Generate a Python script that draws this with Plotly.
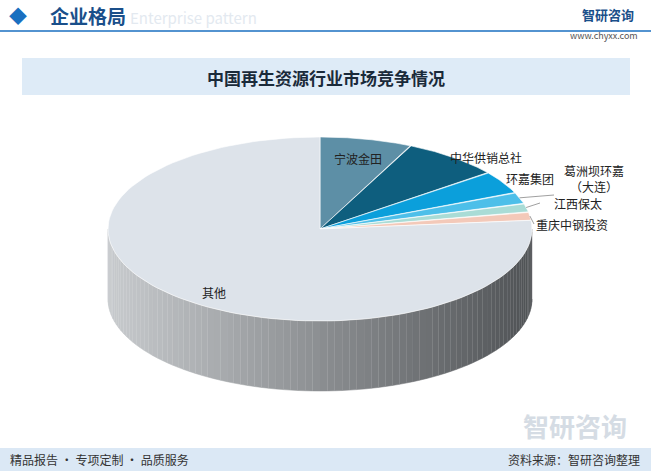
import numpy as np
import plotly.graph_objects as go

# data
companies = ["宁波金田", "中华供销总社", "环嘉集团", "葛洲坝环嘉<br>（大连）", "江西保太", "重庆中钢投资", "其他"]
shares = [7.0, 7.5, 4.0, 2.0, 1.5, 1.5, 76.5]
colors = ["#5d8fa6", "#0e5e7e", "#0b9fdb", "#4dbfe9", "#a9dcd6", "#f3c9b9", "#dde3ea"]

# pie geometry (page pixels)
cx, cy, rx, ry, depth = 320, 229, 212, 92, 70

def pt(theta, dy=0):
    return cx + rx * np.sin(theta), cy - ry * np.cos(theta) + dy

fig = go.Figure()

# side wall (front half), shaded gray
steps = np.linspace(np.pi / 2, 3 * np.pi / 2, 91)
for a, b in zip(steps[:-1], steps[1:]):
    x1, y1 = pt(a)
    x2, y2 = pt(b)
    t = (np.sin((a + b) / 2) + 1) / 2  # 0 left, 1 right
    c = int(200 - 120 * t)
    col = f"rgb({c},{c + 3},{c + 6})"
    fig.add_trace(go.Scatter(x=[x1, x2, x2, x1], y=[y1, y2, y2 + depth, y1 + depth],
                             fill="toself", fillcolor=col, mode="lines",
                             line=dict(color=col, width=0.5), hoverinfo="skip"))

# top faces
cum = np.concatenate([[0], np.cumsum(shares)]) / sum(shares) * 2 * np.pi
for i in range(len(shares)):
    th = np.linspace(cum[i], cum[i + 1], 120)
    xs, ys = pt(th)
    fig.add_trace(go.Scatter(x=np.r_[cx, xs, cx], y=np.r_[cy, ys, cy], fill="toself",
                             fillcolor=colors[i], mode="lines",
                             line=dict(color="white", width=0.6), hoverinfo="skip"))

# labels
label_pos = [(358, 158), (486, 157), (530, 178), (594, 178), (578, 203), (572, 224), (214, 292)]
mids = (cum[:-1] + cum[1:]) / 2
for i, (name, (lx, ly)) in enumerate(zip(companies, label_pos)):
    fig.add_annotation(x=lx, y=ly, text=name, showarrow=False,
                       font=dict(size=12, color="#222"))
    if i in (3, 4, 5):
        mx, my = pt(mids[i])
        fig.add_shape(type="line", x0=mx, y0=my, x1=lx - 38 if i != 3 else lx - 40, y1=ly if i != 3 else 195,
                      line=dict(color="#888", width=0.8))

# header
fig.add_shape(type="line", x0=0, x1=651, y0=31, y1=31, line=dict(color="#1a6fc0", width=1.5))
fig.add_annotation(x=18, y=15, text="◆", showarrow=False, font=dict(size=18, color="#1a6fc0"))
fig.add_annotation(x=48, y=15, text="<b>企业格局</b>", xanchor="left", showarrow=False,
                   font=dict(size=19, color="#1a4f8a", family="Noto Sans CJK SC"))
fig.add_annotation(x=128, y=17, text="Enterprise pattern", xanchor="left", showarrow=False,
                   font=dict(size=15, color="#e3e9f0"))
fig.add_annotation(x=636, y=14, text="<b>智研咨询</b>", xanchor="right", showarrow=False,
                   font=dict(size=13, color="#1a4f8a"))
fig.add_annotation(x=640, y=35, text="www.chyxx.com", xanchor="right", showarrow=False,
                   font=dict(size=9, color="#555"))

# title box
fig.add_shape(type="rect", x0=22, x1=630, y0=58, y1=95, fillcolor="#deebf7", line=dict(width=0), layer="below")
fig.add_annotation(x=326, y=77, text="<b>中国再生资源行业市场竞争情况</b>", showarrow=False,
                   font=dict(size=17, color="#1a2a3a", family="Noto Sans CJK SC"))

# footer
fig.add_shape(type="rect", x0=0, x1=651, y0=448, y1=471, fillcolor="#dbe8f5", line=dict(width=0), layer="below")
fig.add_annotation(x=8, y=459, text="精品报告 · 专项定制 · 品质服务", xanchor="left", showarrow=False,
                   font=dict(size=12, color="#333"))
fig.add_annotation(x=642, y=459, text="资料来源：智研咨询整理", xanchor="right", showarrow=False,
                   font=dict(size=12, color="#333"))
fig.add_annotation(x=575, y=425, text="<b>智研咨询</b>", showarrow=False,
                   font=dict(size=26, color="#d5dce4"))

fig.update_layout(width=651, height=471, margin=dict(l=0, r=0, t=0, b=0),
                  paper_bgcolor="white", plot_bgcolor="white", showlegend=False,
                  font=dict(family="Noto Sans CJK SC"),
                  xaxis=dict(range=[0, 651], visible=False, fixedrange=True),
                  yaxis=dict(range=[471, 0], visible=False, fixedrange=True))
fig.write_html("out.html", config={"displayModeBar": False})

# drop the default body margin so the figure fills the window
with open("out.html", encoding="utf-8") as f:
    html = f.read()
html = html.replace("<head>", "<head><style>body{margin:0;overflow:hidden}</style>", 1)
with open("out.html", "w", encoding="utf-8") as f:
    f.write(html)
